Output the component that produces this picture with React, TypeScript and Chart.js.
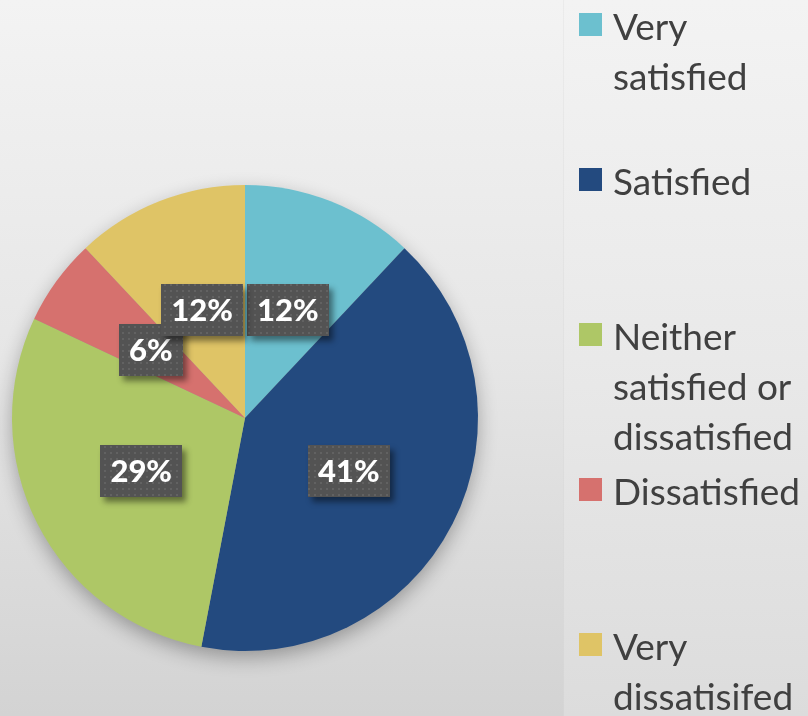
import React, { useEffect, useRef } from "react";
import { Chart, registerables } from "chart.js";

Chart.register(...registerables);

const categories = [
  "Very satisfied",
  "Satisfied",
  "Neither satisfied or dissatisfied",
  "Dissatisfied",
  "Very dissatisifed",
];
const values = [12, 41, 29, 6, 12];
const colors = ["#6CC0CF", "#234A7F", "#AEC766", "#D6716E", "#DFC466"];
const legendLines = [
  ["Very", "satisfied"],
  ["Satisfied"],
  ["Neither", "satisfied or", "dissatisfied"],
  ["Dissatisfied"],
  ["Very", "dissatisifed"],
];

function makePattern(ctx: CanvasRenderingContext2D) {
  const tile = document.createElement("canvas");
  tile.width = 6;
  tile.height = 6;
  const t = tile.getContext("2d")!;
  t.fillStyle = "rgba(255,255,255,0.09)";
  t.fillRect(2, 2, 2, 2);
  return ctx.createPattern(tile, "repeat");
}

const pieShadow = {
  id: "pieShadow",
  beforeDatasetsDraw(chart: any) {
    const meta = chart.getDatasetMeta(0);
    const arc = meta.data[0];
    if (!arc) return;
    const ctx = chart.ctx as CanvasRenderingContext2D;
    ctx.save();
    ctx.shadowColor = "rgba(0,0,0,0.32)";
    ctx.shadowBlur = 20;
    ctx.shadowOffsetX = 0;
    ctx.shadowOffsetY = 7;
    ctx.fillStyle = "#9a9a9a";
    ctx.beginPath();
    ctx.arc(arc.x, arc.y, arc.outerRadius - 1, 0, Math.PI * 2);
    ctx.fill();
    ctx.restore();
  },
};

const boxLabels = {
  id: "boxLabels",
  afterDatasetsDraw(chart: any) {
    const ctx = chart.ctx as CanvasRenderingContext2D;
    const meta = chart.getDatasetMeta(0);
    const pattern = makePattern(ctx);
    ctx.save();
    ctx.font = "900 31px Lato";
    meta.data.forEach((arc: any, i: number) => {
      const { x, y } = arc.tooltipPosition();
      const text = values[i] + "%";
      const w = Math.round(ctx.measureText(text).width + 20);
      const h = 52;
      const bx = Math.round(x - w / 2);
      const by = Math.round(y - h / 2);
      ctx.save();
      ctx.shadowColor = "rgba(0,0,0,0.45)";
      ctx.shadowBlur = 6;
      ctx.shadowOffsetX = 4;
      ctx.shadowOffsetY = 5;
      ctx.fillStyle = "#535353";
      ctx.fillRect(bx, by, w, h);
      ctx.restore();
      if (pattern) {
        ctx.fillStyle = pattern;
        ctx.fillRect(bx, by, w, h);
      }
      ctx.fillStyle = "#ffffff";
      ctx.textAlign = "center";
      ctx.textBaseline = "middle";
      ctx.fillText(text, x, y + 1);
    });
    ctx.restore();
  },
};

export default function App() {
  const canvasRef = useRef<HTMLCanvasElement | null>(null);

  useEffect(() => {
    document.body.style.margin = "0";
    document.body.style.overflow = "hidden";
    const canvas = canvasRef.current;
    if (!canvas) return;
    const chart = new Chart(canvas, {
      type: "pie",
      data: {
        labels: categories,
        datasets: [
          {
            data: values,
            backgroundColor: colors,
            borderWidth: 0,
          },
        ],
      },
      options: {
        responsive: false,
        animation: false,
        devicePixelRatio: 1,
        layout: { padding: { left: 12, right: 330, top: 185, bottom: 65 } },
        plugins: {
          legend: { display: false },
          tooltip: { enabled: false },
        },
      },
      plugins: [pieShadow, boxLabels],
    });
    return () => chart.destroy();
  }, []);

  return (
    <div
      style={{
        position: "relative",
        width: 808,
        height: 716,
        overflow: "hidden",
        background: "linear-gradient(180deg, #f3f3f3 0%, #e6e6e6 50%, #d3d3d3 100%)",
      }}
    >
      <div
        style={{
          position: "absolute",
          left: 563,
          top: 0,
          width: 245,
          height: 716,
          background: "linear-gradient(180deg, #f3f3f3 0%, #e9e9e9 50%, #dcdcdc 100%)",
          borderLeft: "1px solid rgba(0,0,0,0.03)",
        }}
      />
      <canvas
        ref={canvasRef}
        width={808}
        height={716}
        style={{ position: "absolute", left: 0, top: 0 }}
      />
      {legendLines.map((lines, i) => (
        <div
          key={i}
          style={{ position: "absolute", left: 579, top: 13 + i * 155 }}
        >
          <div
            style={{
              position: "absolute",
              left: 0,
              top: 0,
              width: 23,
              height: 23,
              background: colors[i],
            }}
          />
          <div
            style={{
              position: "absolute",
              left: 34,
              top: -12,
              fontFamily: "Lato, sans-serif",
              fontSize: 37,
              lineHeight: "50px",
              color: "#404040",
              whiteSpace: "nowrap",
            }}
          >
            {lines.map((ln, j) => (
              <div key={j}>{ln}</div>
            ))}
          </div>
        </div>
      ))}
    </div>
  );
}
